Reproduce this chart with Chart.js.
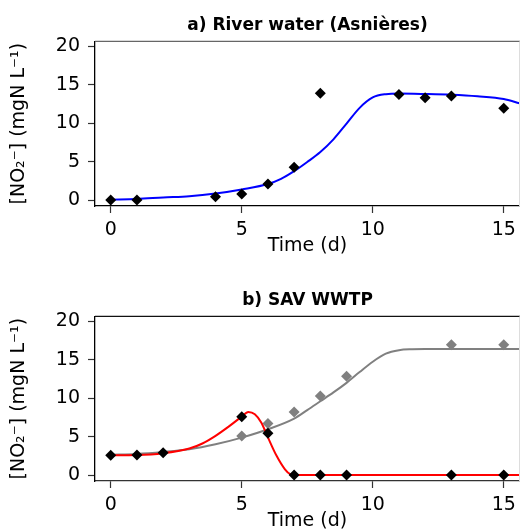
<!DOCTYPE html>
<html>
<head>
<meta charset="utf-8">
<script src="https://cdn.jsdelivr.net/npm/chart.js@4"></script>
<style>
	body { margin: 0; background: #fff; overflow: hidden; }
	#wrap { position: relative; width: 520px; height: 532px; overflow: hidden; }
	.panel { position: absolute; left: 0; width: 520px; height: 266px; }
</style>
</head>
<body>
<div id="wrap">
	<div class="panel" style="top: 0"><canvas id="chartA" width="520" height="266"></canvas></div>
	<div class="panel" style="top: 275px"><canvas id="chartB" width="520" height="266"></canvas></div>
</div>
<script>
// Axis ticks
const xTickValues = [0, 5, 10, 15];
const yTickValues = [0, 5, 10, 15, 20];

// a) River water (Asnières) - measured points
const riverDays = [0, 1, 4, 5, 6, 7, 8, 11, 12, 13, 15];
const riverNO2 = [0, 0, 0.43, 0.78, 2.1, 4.25, 13.9, 13.75, 13.3, 13.55, 11.95];
// model curve
const riverFitDays = [0, 1, 2, 3, 4, 5, 6, 6.5, 7, 7.5, 8, 8.5, 9, 9.5, 10, 10.5, 11, 12, 13, 14, 15, 15.6];
const riverFit = [0.05, 0.13, 0.33, 0.5, 0.85, 1.38, 2.08, 2.75, 3.75, 4.95, 6.25, 7.9, 9.95, 12.0, 13.35, 13.78, 13.86, 13.8, 13.7, 13.5, 13.15, 12.6];

// b) SAV WWTP - measured points
const wwtpDays = [0, 1, 2, 5, 6, 7, 8, 9, 13, 15];
const wwtpNO2 = [2.57, 2.6, 2.9, 7.6, 5.43, 0, 0, 0, 0, 0];
const wwtpGreyDays = [5, 6, 7, 8, 9, 13, 15];
const wwtpGreyNO2 = [5.08, 6.7, 8.2, 10.3, 12.85, 16.95, 16.95];
// model curves
const wwtpRedDays = [0, 1, 2, 3, 3.5, 4, 4.5, 5, 5.25, 5.5, 5.75, 6, 6.33, 6.65, 6.85, 7, 8, 15.6];
const wwtpRedFit = [2.57, 2.6, 2.83, 3.44, 4.1, 5.1, 6.3, 7.6, 8.2, 7.9, 6.8, 4.9, 2.5, 0.74, 0.1, 0, 0, 0];
const wwtpGreyFitDays = [0, 1, 2, 3, 4, 5, 6, 7, 7.5, 8, 8.5, 9, 9.5, 10, 10.5, 11, 11.5, 12, 15.6];
const wwtpGreyFit = [2.65, 2.75, 3.0, 3.35, 4.0, 4.87, 5.96, 7.35, 8.45, 9.6, 10.75, 12.0, 13.4, 14.75, 15.8, 16.25, 16.38, 16.42, 16.42];

Chart.defaults.font.family = 'DejaVu Sans';
Chart.defaults.color = '#000';

function toPoints(xs, ys) {
	return xs.map((x, i) => ({ x: x, y: ys[i] }));
}

function markers(xs, ys, color) {
	return {
		data: toPoints(xs, ys),
		pointStyle: 'rectRot',
		pointRadius: 5.5,
		pointBackgroundColor: color,
		pointBorderColor: color,
		pointBorderWidth: 0,
		showLine: false,
	};
}

function curve(xs, ys, color) {
	return {
		data: toPoints(xs, ys),
		showLine: true,
		borderColor: color,
		borderWidth: 2,
		pointRadius: 0,
		cubicInterpolationMode: 'monotone',
	};
}

// top spine + faint right edge
const frame = {
	id: 'frame',
	afterDraw(chart, args, opts) {
		const { ctx, chartArea: a } = chart;
		ctx.save();
		ctx.strokeStyle = opts.top;
		ctx.lineWidth = 1.3;
		ctx.beginPath();
		ctx.moveTo(a.left, a.top);
		ctx.lineTo(a.right, a.top);
		ctx.stroke();
		ctx.strokeStyle = '#ddd';
		ctx.lineWidth = 1;
		ctx.beginPath();
		ctx.moveTo(a.right - 0.5, a.top);
		ctx.lineTo(a.right - 0.5, a.bottom);
		ctx.stroke();
		ctx.restore();
	},
};

function makePanel(id, title, datasets, topColor, bottomColor) {
	return new Chart(document.getElementById(id), {
		type: 'scatter',
		data: { datasets: datasets },
		plugins: [frame],
		options: {
			responsive: false,
			animation: false,
			layout: { padding: 0, autoPadding: false },
			plugins: {
				legend: { display: false },
				tooltip: { enabled: false },
				frame: { top: topColor },
				title: {
					display: true,
					fullSize: false,
					text: title,
					font: { size: 17, weight: 'bold' },
					padding: { top: 15, bottom: 6 },
				},
			},
			scales: {
				x: {
					type: 'linear',
					min: -0.6,
					max: 15.62,
					afterBuildTicks: (s) => {
						s.ticks = xTickValues.map((v) => ({ value: v }));
					},
					afterFit: (s) => {
						s.height = 60;
						s.paddingLeft = 0;
						s.paddingRight = 0;
					},
					grid: {
						drawOnChartArea: false,
						tickLength: 7,
						tickColor: '#333',
						tickWidth: 1.2,
					},
					border: { color: bottomColor, width: 1.3 },
					ticks: { font: { size: 19 }, padding: 6, maxRotation: 0 },
					title: {
						display: true,
						text: 'Time (d)',
						font: { size: 19 },
						padding: { top: 0, bottom: 9 },
					},
				},
				y: {
					type: 'linear',
					min: -0.78,
					max: 20.65,
					afterBuildTicks: (s) => {
						s.ticks = yTickValues.map((v) => ({ value: v }));
					},
					afterFit: (s) => {
						s.width = 95;
						s.paddingTop = 0;
						s.paddingBottom = 0;
					},
					grid: {
						drawOnChartArea: false,
						tickLength: 7,
						tickColor: '#333',
						tickWidth: 1.2,
					},
					border: { color: '#000', width: 1.3 },
					ticks: { font: { size: 19 }, padding: 8 },
					title: {
						display: true,
						text: '[NO₂⁻] (mgN L⁻¹)',
						font: { size: 19 },
						padding: { top: 8, bottom: 0 },
					},
				},
			},
		},
	});
}

makePanel('chartA', 'a) River water (Asnières)', [
	markers(riverDays, riverNO2, '#000'),
	curve(riverFitDays, riverFit, '#0000ff'),
], '#666', '#000');

makePanel('chartB', 'b) SAV WWTP', [
	markers(wwtpDays, wwtpNO2, '#000'),
	curve(wwtpRedDays, wwtpRedFit, '#ff0000'),
	markers(wwtpGreyDays, wwtpGreyNO2, '#808080'),
	curve(wwtpGreyFitDays, wwtpGreyFit, '#808080'),
], '#111', '#333');
</script>
</body>
</html>
